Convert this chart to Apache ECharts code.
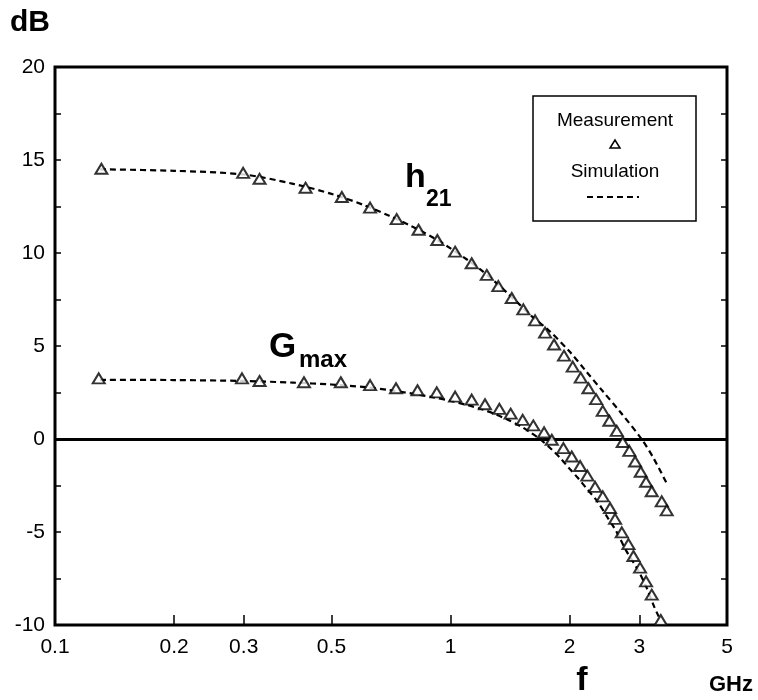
<!DOCTYPE html>
<html>
<head>
<meta charset="utf-8">
<script src="https://cdn.jsdelivr.net/npm/echarts@6.0.0/dist/echarts.min.js"></script>
<style>
html, body { margin: 0; padding: 0; background: #fff; }
#chart { width: 758px; height: 700px; }
</style>
</head>
<body>
<div id="chart"></div>
<script>
// frequency in GHz, gain in dB
var freqTicks = [0.1, 0.2, 0.3, 0.5, 1, 2, 3, 5];
var freqMinorTicks = [0.2, 0.3, 0.5, 1, 2, 3];

var h21Measured = [
	[0.131, 14.53], [0.299, 14.31], [0.329, 13.99], [0.43, 13.51], [0.531, 13.01],
	[0.626, 12.44], [0.731, 11.82], [0.83, 11.25], [0.926, 10.70], [1.027, 10.07],
	[1.131, 9.45], [1.235, 8.82], [1.321, 8.22], [1.428, 7.58], [1.528, 6.97],
	[1.636, 6.38], [1.734, 5.72], [1.827, 5.08], [1.936, 4.48], [2.037, 3.89],
	[2.134, 3.30], [2.232, 2.73], [2.334, 2.14], [2.426, 1.51], [2.521, 0.98],
	[2.632, 0.44], [2.725, -0.16], [2.832, -0.64], [2.928, -1.21], [3.026, -1.76],
	[3.121, -2.30], [3.226, -2.81], [3.42, -3.35], [3.52, -3.84]
];
var h21Simulated = [
	[0.13, 14.5], [0.2, 14.42], [0.3, 14.22], [0.4, 13.72], [0.5, 13.18],
	[0.6, 12.6], [0.7, 12.0], [0.8, 11.42], [0.9, 10.85], [1.0, 10.25],
	[1.1, 9.65], [1.2, 9.05], [1.3, 8.42], [1.4, 7.8], [1.5, 7.2],
	[1.6, 6.62], [1.77, 5.85], [2.0, 4.7], [2.2, 3.65], [2.43, 2.55],
	[2.68, 1.48], [3.04, 0], [3.26, -1.03], [3.52, -2.39]
];
var gmaxMeasured = [
	[0.129, 3.26], [0.297, 3.26], [0.329, 3.12], [0.426, 3.05], [0.528, 3.05],
	[0.626, 2.90], [0.728, 2.73], [0.825, 2.62], [0.923, 2.51], [1.027, 2.28],
	[1.131, 2.12], [1.222, 1.87], [1.329, 1.62], [1.419, 1.36], [1.522, 1.03],
	[1.619, 0.73], [1.724, 0.36], [1.803, -0.04], [1.929, -0.49], [2.025, -0.94],
	[2.126, -1.45], [2.218, -1.97], [2.32, -2.57], [2.426, -3.08], [2.531, -3.71],
	[2.606, -4.29], [2.71, -5.02], [2.817, -5.65], [2.90, -6.29], [3.014, -6.92],
	[3.121, -7.65], [3.226, -8.37], [3.40, -9.73]
];
var gmaxSimulated = [
	[0.13, 3.18], [0.2, 3.17], [0.3, 3.12], [0.4, 3.03], [0.5, 2.93],
	[0.6, 2.8], [0.7, 2.63], [0.8, 2.44], [0.9, 2.25], [1.0, 2.05],
	[1.1, 1.83], [1.2, 1.6], [1.3, 1.33], [1.4, 1.02], [1.5, 0.7],
	[1.6, 0.32], [1.7, -0.08], [1.8, -0.55], [1.9, -1.05], [2.0, -1.6],
	[2.1, -2.1], [2.2, -2.62], [2.34, -3.3], [2.5, -4.25], [2.63, -5.0],
	[2.78, -6.0], [2.97, -7.0], [3.12, -7.92], [3.27, -9.0], [3.36, -9.55]
];

var FONT = 'Liberation Sans, Arial, Helvetica, sans-serif';

function measuredSeries(name, data) {
	return {
		name: name,
		type: 'scatter',
		xAxisIndex: 0,
		yAxisIndex: 0,
		symbol: 'triangle',
		symbolSize: [12, 10],
		itemStyle: { color: '#fff', borderColor: '#000', borderWidth: 2 },
		z: 5,
		data: data
	};
}

function simulatedSeries(name, data) {
	return {
		name: name,
		type: 'line',
		xAxisIndex: 0,
		yAxisIndex: 0,
		showSymbol: false,
		smooth: 0.3,
		lineStyle: { color: '#000', width: 2.2, type: [6, 4] },
		z: 3,
		data: data
	};
}

var myChart = echarts.init(document.getElementById('chart'));

var zeroLine = simulatedSeries('h21 sim', h21Simulated);
zeroLine.markLine = {
	silent: true,
	symbol: 'none',
	label: { show: false },
	lineStyle: { color: '#000', width: 3, type: 'solid' },
	data: [{ yAxis: 0 }]
};

var chartOption = {
	animation: false,
	backgroundColor: '#fff',
	grid: {
		left: 55, right: 31, top: 67, bottom: 75,
		outerBoundsMode: 'none',
		show: true, borderColor: '#000', borderWidth: 3, backgroundColor: 'transparent'
	},
	xAxis: [
		{
			// data axis (log scale), drawn without decoration
			type: 'log', logBase: 10, min: 0.1, max: 5, show: false
		},
		{
			// tick/label axis in log10 units, same span
			type: 'value', min: -1, max: Math.log10(5),
			position: 'bottom',
			axisLine: { show: false, onZero: false },
			splitLine: { show: false },
			axisTick: {
				inside: true, length: 10,
				lineStyle: { color: '#000', width: 1.5 },
				customValues: freqMinorTicks.map(Math.log10)
			},
			axisLabel: {
				margin: 12, fontSize: 21, color: '#000', fontFamily: FONT,
				customValues: freqTicks.map(Math.log10),
				formatter: function (v) { return String(Number(Math.pow(10, v).toPrecision(2))); }
			}
		}
	],
	yAxis: [
		{
			type: 'value', min: -10, max: 20, interval: 2.5, position: 'left',
			axisLine: { show: false, onZero: false },
			splitLine: { show: false },
			axisTick: { inside: true, length: 6, lineStyle: { color: '#000', width: 1.5 } },
			axisLabel: {
				margin: 10, fontSize: 21, color: '#000', fontFamily: FONT,
				formatter: function (v) { return v % 5 === 0 ? String(v) : ''; }
			}
		},
		{
			type: 'value', min: -10, max: 20, interval: 2.5, position: 'right',
			axisLine: { show: false, onZero: false },
			splitLine: { show: false },
			axisTick: { inside: true, length: 6, lineStyle: { color: '#000', width: 1.5 } },
			axisLabel: { show: false }
		}
	],
	series: [
		zeroLine,
		simulatedSeries('Gmax sim', gmaxSimulated),
		measuredSeries('h21', h21Measured),
		measuredSeries('Gmax', gmaxMeasured)
	],
	graphic: [
		{ type: 'text', left: 10, top: 8, style: { text: 'dB', font: 'bold 30px ' + FONT, fill: '#000' } },
		{ type: 'text', x: 582, y: 681, style: { text: 'f', font: 'bold 34px ' + FONT, fill: '#000', align: 'center', verticalAlign: 'middle' } },
		{ type: 'text', x: 731, y: 685, style: { text: 'GHz', font: 'bold 22px ' + FONT, fill: '#000', align: 'center', verticalAlign: 'middle' } },
		{ type: 'text', x: 405, y: 178, style: { text: 'h', font: 'bold 34px ' + FONT, fill: '#000', align: 'left', verticalAlign: 'middle' } },
		{ type: 'text', x: 426, y: 200, style: { text: '21', font: 'bold 23px ' + FONT, fill: '#000', align: 'left', verticalAlign: 'middle' } },
		{ type: 'text', x: 269, y: 347, style: { text: 'G', font: 'bold 35px ' + FONT, fill: '#000', align: 'left', verticalAlign: 'middle' } },
		{ type: 'text', x: 299, y: 360, style: { text: 'max', font: 'bold 24px ' + FONT, fill: '#000', align: 'left', verticalAlign: 'middle' } },
		// legend box
		{ type: 'rect', shape: { x: 533, y: 96, width: 163, height: 125 }, style: { fill: '#fff', stroke: '#000', lineWidth: 1.5 }, z: 10 },
		{ type: 'text', x: 615, y: 121, style: { text: 'Measurement', font: '19px ' + FONT, fill: '#000', align: 'center', verticalAlign: 'middle' }, z: 11 },
		{ type: 'polygon', shape: { points: [[610, 148], [620, 148], [615, 140]] }, style: { fill: '#fff', stroke: '#000', lineWidth: 1.5 }, z: 11 },
		{ type: 'text', x: 615, y: 172, style: { text: 'Simulation', font: '19px ' + FONT, fill: '#000', align: 'center', verticalAlign: 'middle' }, z: 11 },
		{ type: 'line', shape: { x1: 587, y1: 197, x2: 639, y2: 197 }, style: { stroke: '#000', lineWidth: 2, lineDash: [6, 4] }, z: 11 }
	]
};

myChart.setOption(chartOption);
</script>
</body>
</html>
